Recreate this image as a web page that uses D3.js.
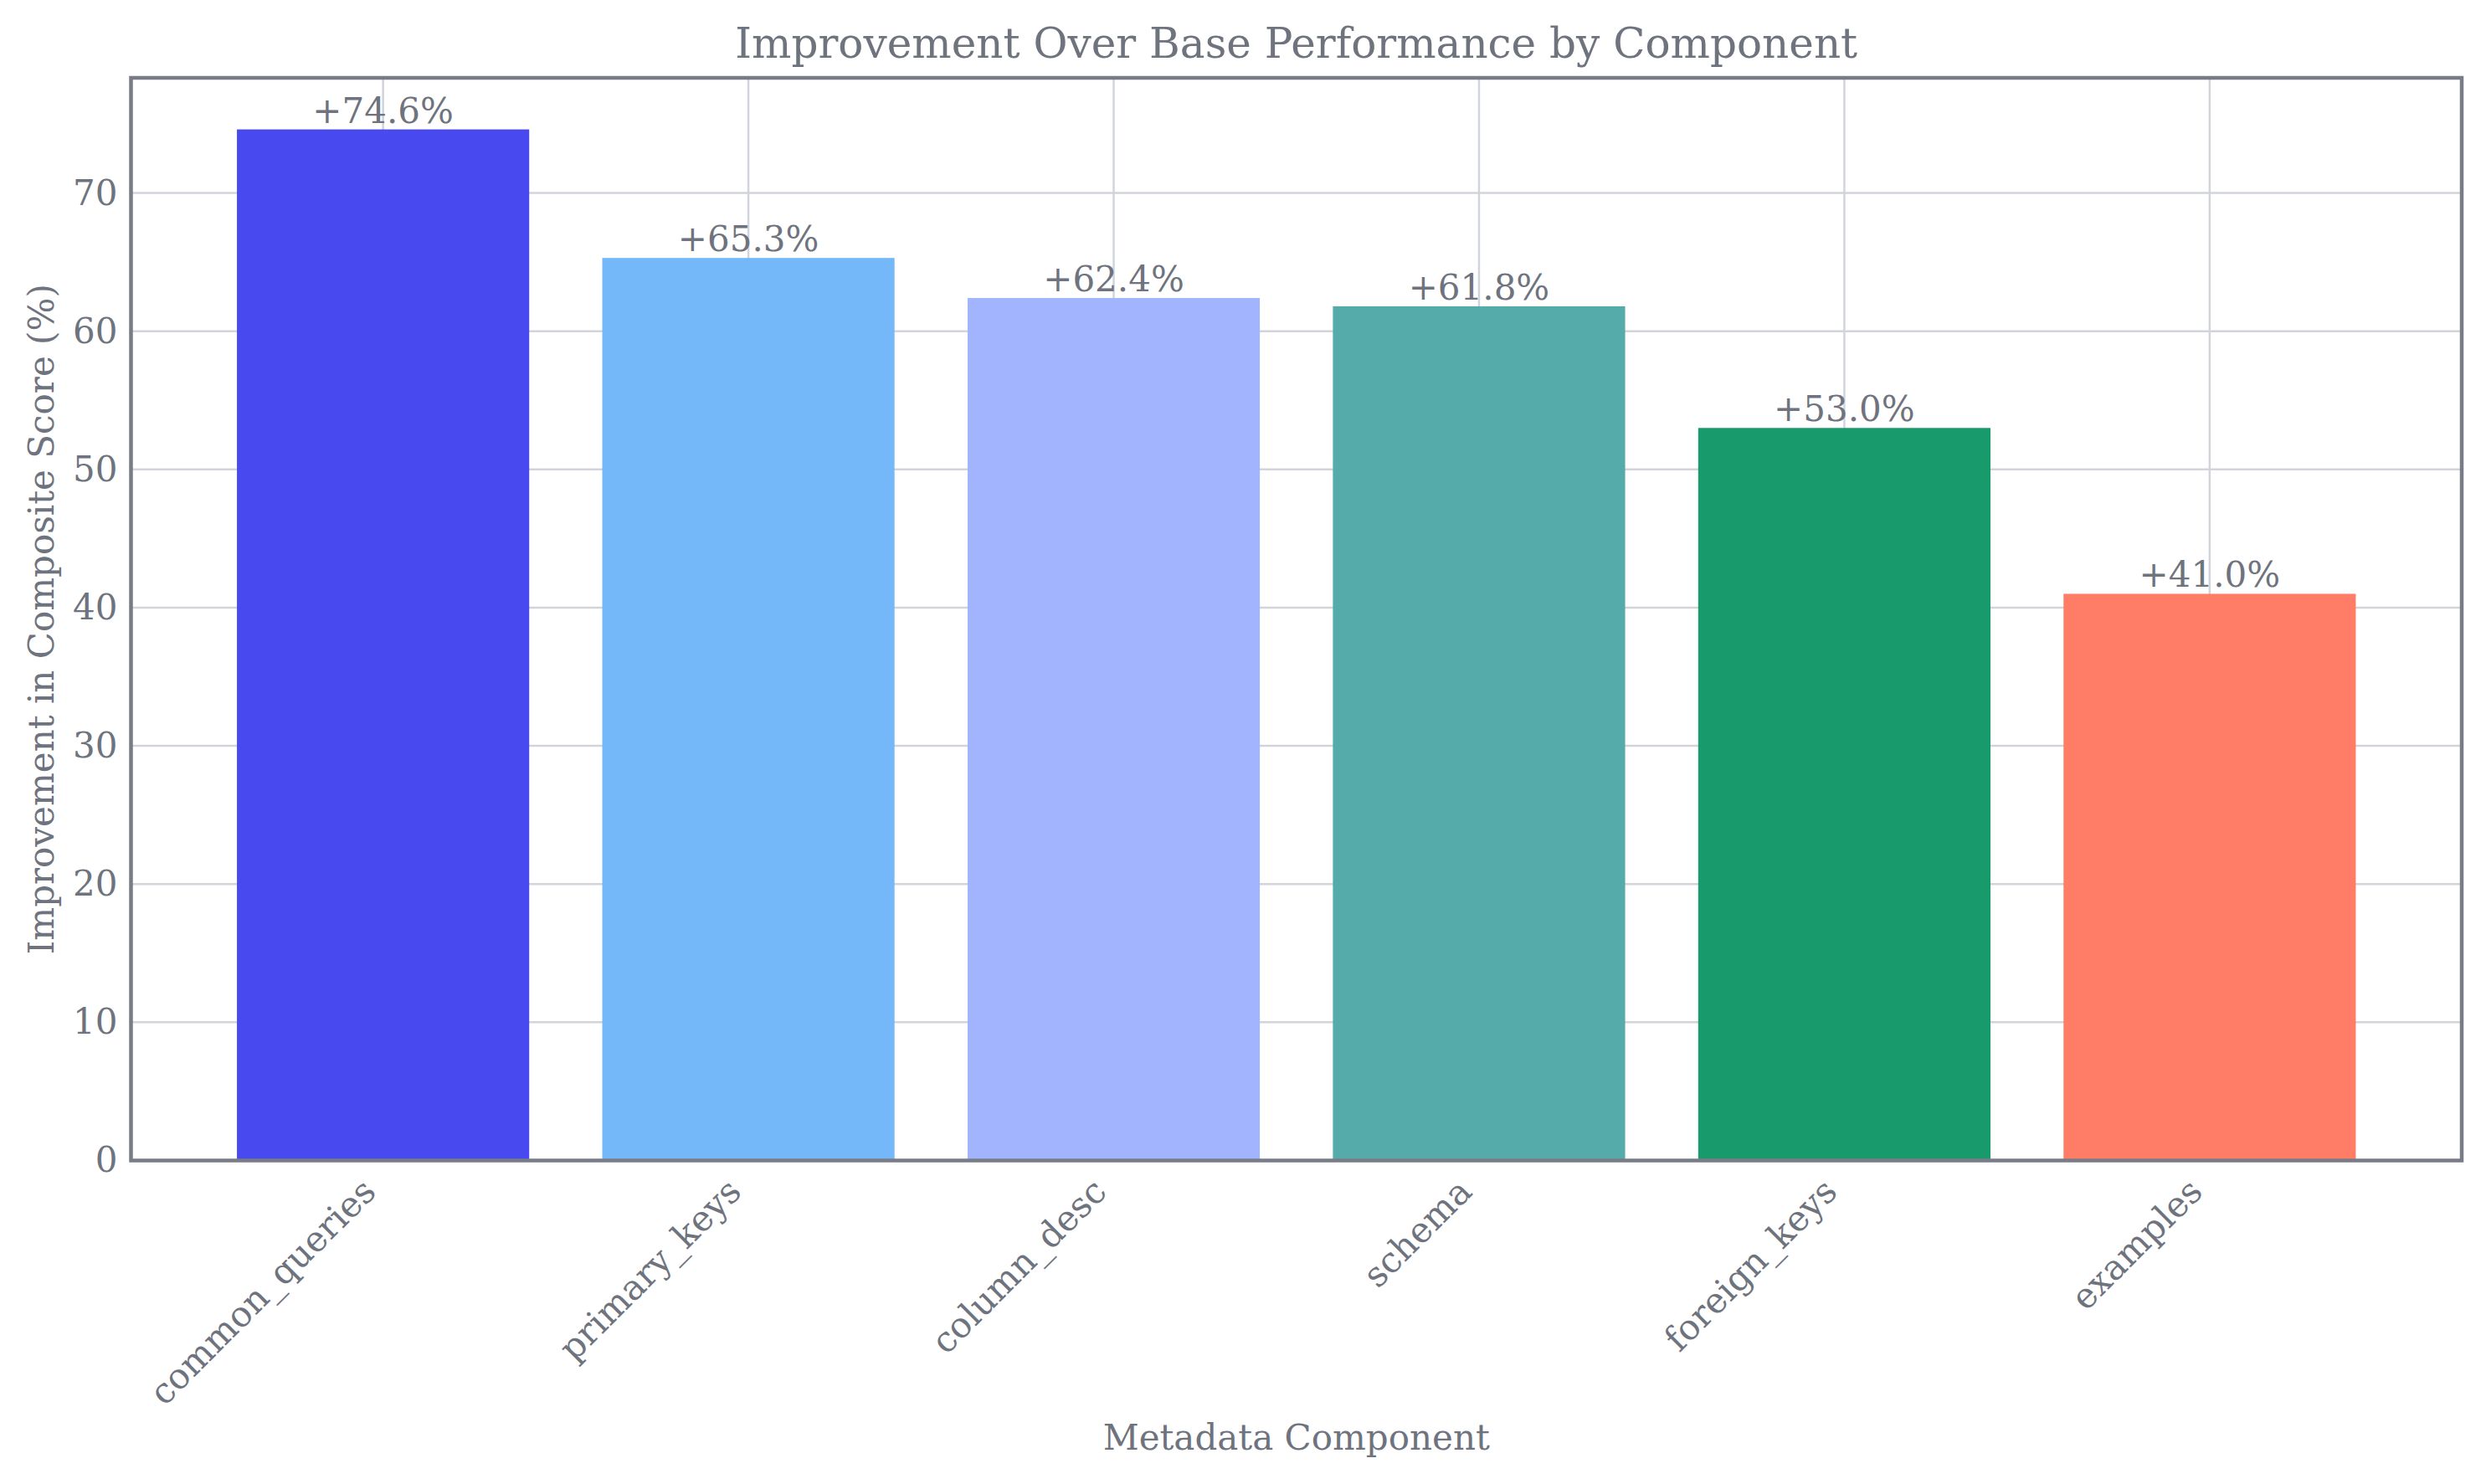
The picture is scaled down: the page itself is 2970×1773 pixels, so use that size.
<!DOCTYPE html>
<html><head><meta charset="utf-8">
<script src="https://cdn.jsdelivr.net/npm/d3@7"></script>
<style>html,body{margin:0;padding:0;background:#fff;}svg{display:block;}</style>
</head><body>
<script>
const categories = ["common_queries","primary_keys","column_desc","schema","foreign_keys","examples"];
const values = [74.6, 65.3, 62.4, 61.8, 53.0, 41.0];
const colors = ["#4949F0","#74B8F9","#A2B4FD","#55AAAA","#189A6C","#FF7D66"];
const yTicks = [0,10,20,30,40,50,60,70];
const title = "Improvement Over Base Performance by Component";
const xLabel = "Metadata Component";
const yLabel = "Improvement in Composite Score (%)";

const W = 2970, H = 1773;
const L = 156.5, R = 2941, T = 93, B = 1386.5;
const txt = "#6e737e", spine = "#787c87", grid = "#d1d5db";
const font = "'DejaVu Serif', serif";

const svg = d3.select("body").append("svg").attr("width", W).attr("height", H);
const n = categories.length;
const x = d3.scaleLinear().domain([-0.4 - 0.05*(n-0.2), n-1+0.4 + 0.05*(n-0.2)]).range([L, R]);
const yMax = d3.max(values) * 1.05;
const y = d3.scaleLinear().domain([0, yMax]).range([B, T]);

// grid
const g = svg.append("g");
g.selectAll("line.h").data(yTicks).join("line")
  .attr("x1", L).attr("x2", R).attr("y1", d => y(d)).attr("y2", d => y(d))
  .attr("stroke", grid).attr("stroke-width", 2.5);
g.selectAll("line.v").data(categories).join("line")
  .attr("x1", (d,i) => x(i)).attr("x2", (d,i) => x(i)).attr("y1", T).attr("y2", B)
  .attr("stroke", grid).attr("stroke-width", 2.5);

// bars
svg.selectAll("rect.bar").data(values).join("rect")
  .attr("x", (d,i) => x(i - 0.4)).attr("width", (d,i) => x(i + 0.4) - x(i - 0.4))
  .attr("y", d => y(d)).attr("height", d => y(0) - y(d))
  .attr("fill", (d,i) => colors[i]);

// value labels
svg.selectAll("text.val").data(values).join("text")
  .attr("x", (d,i) => x(i)).attr("y", d => y(d) - 8)
  .attr("text-anchor", "middle").attr("font-family", font).attr("font-size", 42)
  .attr("fill", txt).text(d => "+" + d.toFixed(1) + "%");

// spines
svg.append("rect").attr("x", L).attr("y", T).attr("width", R - L).attr("height", B - T)
  .attr("fill", "none").attr("stroke", spine).attr("stroke-width", 4.5);

// y axis tick labels
const yAxis = d3.axisLeft(y).tickValues(yTicks).tickSize(0).tickPadding(16);
const ya = svg.append("g").attr("transform", `translate(${L},0)`).call(yAxis);
ya.select(".domain").remove();
ya.selectAll("text").attr("font-family", font).attr("font-size", 42).attr("fill", txt);

// x axis tick labels (rotated 45, right aligned)
const xAxis = d3.axisBottom(x).tickValues(d3.range(n)).tickSize(0).tickFormat(i => categories[i]);
const xa = svg.append("g").attr("transform", `translate(0,${B})`).call(xAxis);
xa.select(".domain").remove();
const a = 0.76*42, dsc = 0.23*42;
xa.selectAll("text")
  .attr("font-family", font).attr("font-size", 42).attr("fill", txt)
  .attr("text-anchor", "end").attr("dy", null).attr("y", null)
  .attr("transform", `translate(${-0.707*dsc},${17 + 0.707*a}) rotate(-45)`);

// title & axis labels
svg.append("text").attr("x", (L+R)/2).attr("y", 69).attr("text-anchor", "middle")
  .attr("font-family", font).attr("font-size", 50).attr("fill", txt).text(title);
svg.append("text").attr("x", (L+R)/2).attr("y", 1732).attr("text-anchor", "middle")
  .attr("font-family", font).attr("font-size", 42).attr("fill", txt).text(xLabel);
svg.append("text").attr("transform", `translate(64,${(T+B)/2}) rotate(-90)`).attr("text-anchor", "middle")
  .attr("font-family", font).attr("font-size", 42).attr("fill", txt).text(yLabel);
</script>
</body></html>
